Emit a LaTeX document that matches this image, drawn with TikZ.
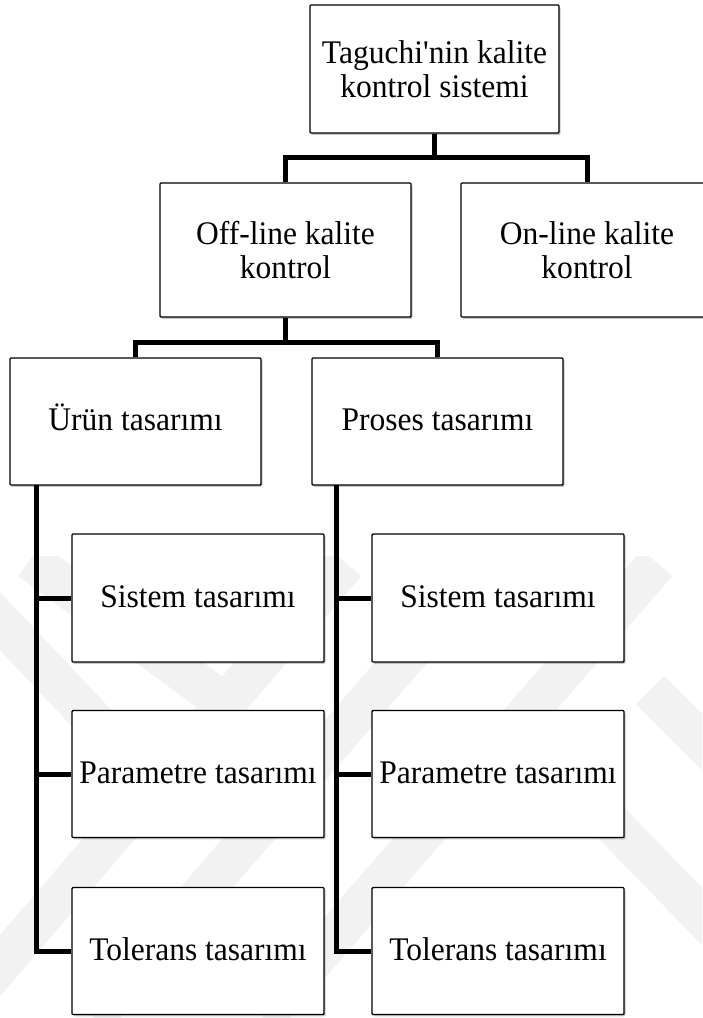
\documentclass[tikz,border=0pt]{standalone}
\usepackage{fontspec}
\setmainfont[FakeStretch=0.955]{Liberation Serif}
\usetikzlibrary{shadows}
\begin{document}
\begin{tikzpicture}[x=1pt,y=-1pt,
  box/.style={draw=black, line width=1.4pt, fill=white, rounded corners=1pt,
    inner sep=0pt, align=center, font=\fontsize{33}{34}\selectfont,
    drop shadow={shadow xshift=1.5pt, shadow yshift=-1.8pt, opacity=0.22, fill=black}},
  oneline/.style={box, text height=27pt, text depth=9pt},
  link/.style={line width=5pt, line join=miter},
  faint/.style={line width=40pt, draw=black!5}]
\useasboundingbox (0,0) rectangle (702,1018);

% light background emblem
\begin{scope}
  \clip (0,556) rectangle (702,1018);
  \draw[faint] (-45,1018) -- (346,563);
  \draw[faint] (94,1018) -- (487,563);
  \draw[faint] (264,1018) -- (657,563);
  \draw[faint] (30,560) -- (237,712);
  \draw[faint] (-20,600) -- (150,780);
  \draw[faint] (650,690) -- (720,760);
  \draw[faint] (560,770) -- (720,935);
\end{scope}

% level 0
\node[box, minimum width=249, minimum height=128] (root) at (434.5,69) {Taguchi\textquotesingle nin kalite\\kontrol sistemi};
% level 1
\node[box, minimum width=251, minimum height=134] (off) at (285.5,250) {Off-line kalite\\kontrol};
\node[box, minimum width=252, minimum height=134] (on) at (587,250) {On-line kalite\\kontrol};
% level 2
\node[oneline, minimum width=251, minimum height=127] (urun) at (135.5,421.5) {Ürün tasarımı};
\node[oneline, minimum width=251, minimum height=127] (proses) at (437.5,421.5) {Proses tasarımı};
% level 3, left column
\node[oneline, minimum width=252, minimum height=128] (lsis) at (198,598) {Sistem tasarımı};
\node[oneline, minimum width=252, minimum height=127] (lpar) at (198,774) {Parametre tasarımı};
\node[oneline, minimum width=252, minimum height=127] (ltol) at (198,951) {Tolerans tasarımı};
% level 3, right column
\node[oneline, minimum width=252, minimum height=128] (rsis) at (498,598) {Sistem tasarımı};
\node[oneline, minimum width=252, minimum height=127] (rpar) at (498,774) {Parametre tasarımı};
\node[oneline, minimum width=252, minimum height=127] (rtol) at (498,951) {Tolerans tasarımı};

% junctions
\coordinate (j1) at (root.south |- 0,157);
\coordinate (j2) at (off.south |- 0,342);
\coordinate (ut) at (36,485);
\coordinate (pt) at (336,485);

\draw[link] (root.south) -- (j1);
\draw[link] (off.north) |- (j1) -| (on.north);
\draw[link] (off.south) -- (j2);
\draw[link] (urun.north) |- (j2) -| (proses.north);

\draw[link] (ut) |- (ltol.west);
\draw[link] (ut |- lsis.west) -- (lsis.west);
\draw[link] (ut |- lpar.west) -- (lpar.west);
\draw[link] (pt) |- (rtol.west);
\draw[link] (pt |- rsis.west) -- (rsis.west);
\draw[link] (pt |- rpar.west) -- (rpar.west);
\end{tikzpicture}
\end{document}
